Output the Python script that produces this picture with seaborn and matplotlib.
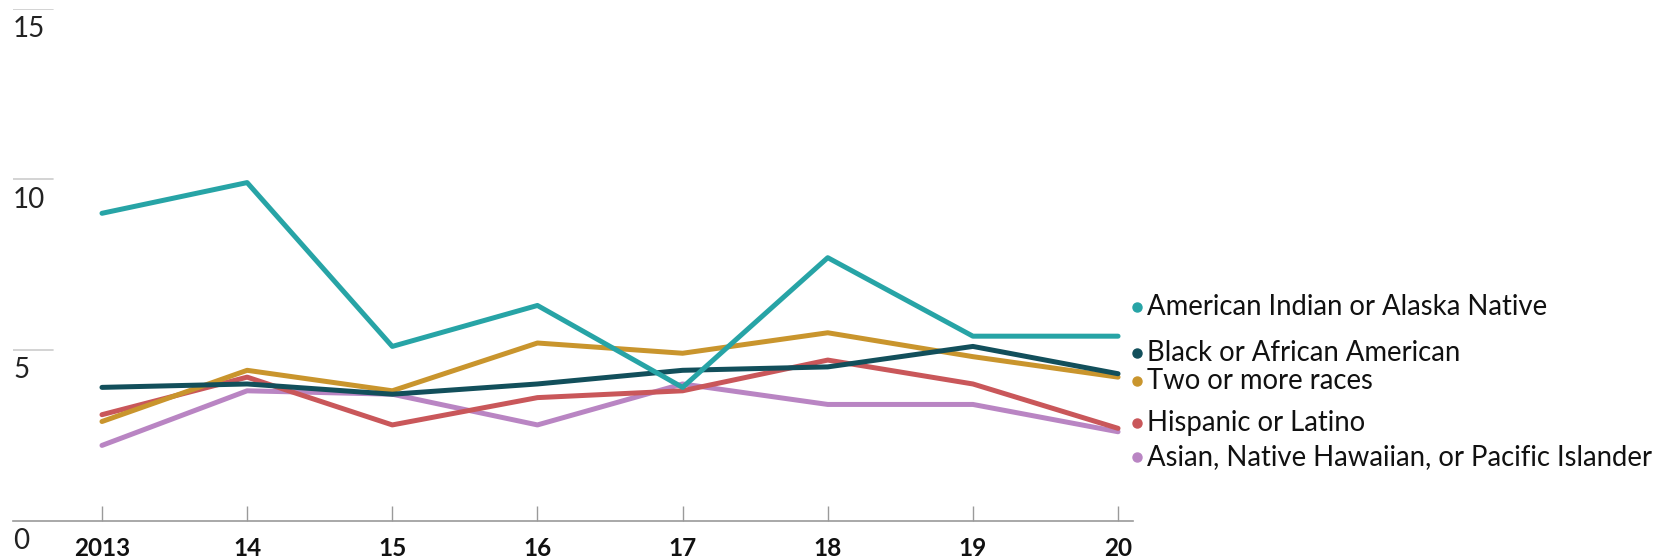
import matplotlib
matplotlib.use("Agg")
import matplotlib.pyplot as plt
import pandas as pd
import seaborn as sns

# Rates by race / ethnicity, 2013-2020
years = [2013, 2014, 2015, 2016, 2017, 2018, 2019, 2020]
year_labels = ["2013", "14", "15", "16", "17", "18", "19", "20"]

american_indian = [9.0, 9.9, 5.1, 6.3, 3.9, 7.7, 5.4, 5.4]
black = [3.9, 4.0, 3.7, 4.0, 4.4, 4.5, 5.1, 4.3]
two_or_more = [2.9, 4.4, 3.8, 5.2, 4.9, 5.5, 4.8, 4.2]
hispanic = [3.1, 4.2, 2.8, 3.6, 3.8, 4.7, 4.0, 2.7]
asian = [2.2, 3.8, 3.7, 2.8, 4.0, 3.4, 3.4, 2.6]

series_names = [
    "American Indian or Alaska Native",
    "Black or African American",
    "Two or more races",
    "Hispanic or Latino",
    "Asian, Native Hawaiian, or Pacific Islander",
]
series_values = [american_indian, black, two_or_more, hispanic, asian]
colors = ["#27a4a6", "#124f5b", "#c9952d", "#c9575a", "#b985c3"]
# vertical spots for the direct labels on the right
label_y = [6.25, 4.9, 4.1, 2.85, 1.85]

y_ticks = [0, 5, 10, 15]

rows = []
for name, vals in zip(series_names, series_values):
    for yr, v in zip(years, vals):
        rows.append({"year": yr, "value": v, "group": name})
df = pd.DataFrame(rows)

sns.set_theme(style="white")
plt.rcParams["font.family"] = ["Lato", "DejaVu Sans"]

fig = plt.figure(figsize=(16.69, 5.57), dpi=100)
ax = fig.add_axes([13 / 1669, 36.5 / 557, 1120 / 1669, 512 / 557])

# draw lines back to front so the teal line sits on top
draw_order = [4, 3, 2, 1, 0]
palette = {n: c for n, c in zip(series_names, colors)}
sns.lineplot(
    data=df, x="year", y="value", hue="group", palette=palette,
    hue_order=[series_names[i] for i in draw_order],
    linewidth=3.6, legend=False, ax=ax,
)

ax.set_xlim(2012.387, 2020.103)
ax.set_ylim(0, 15)
ax.set_xlabel("")
ax.set_ylabel("")

for s in ["top", "right", "left"]:
    ax.spines[s].set_visible(False)
ax.spines["bottom"].set_color("#9a9a9a")
ax.spines["bottom"].set_linewidth(1.2)

ax.set_xticks(years)
ax.set_xticklabels(year_labels, fontsize=17.5, fontweight="bold", color="#111111")
ax.tick_params(axis="x", direction="in", length=11, width=1, color="#9a9a9a",
               pad=12, bottom=True)
ax.set_yticks([])

# short gridlines and value labels at the left edge
for v in y_ticks[1:]:
    ax.axhline(v, xmin=0, xmax=40 / 1120, color="#cccccc", linewidth=1.2)
label_tf = ax.get_yaxis_transform()
for v in y_ticks:
    ax.annotate(str(v), xy=(0, v), xycoords=label_tf, xytext=(0, -5.5),
                textcoords="offset points", ha="left", va="top",
                fontsize=20, color="#222222")

# direct labels with coloured dots
for name, c, ly in zip(series_names, colors, label_y):
    ax.plot([2020.13], [ly], marker="o", markersize=6.5, color=c, clip_on=False,
            linestyle="none")
    ax.text(2020.2, ly, name, ha="left", va="center", fontsize=19.8,
            color="#111111", clip_on=False)

fig.savefig("out.png", dpi=100)
